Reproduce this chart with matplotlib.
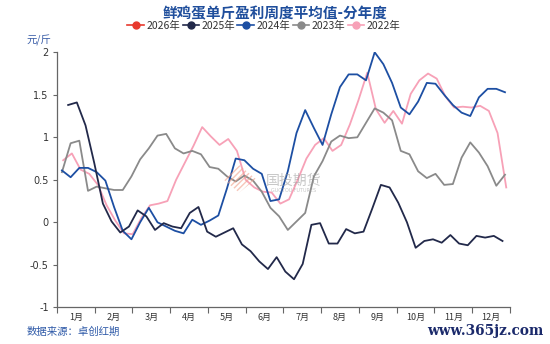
import numpy as np
import matplotlib
matplotlib.use("Agg")
import matplotlib.pyplot as plt
from matplotlib.lines import Line2D
from matplotlib.patches import Polygon

plt.rcParams['font.family'] = ['Noto Sans CJK SC', 'DejaVu Sans']

# weekly average profit per jin of fresh eggs (yuan/jin), one list per year
y2022 = [0.73, 0.81, 0.62, 0.57, 0.44, 0.20, 0.02, -0.13, -0.14, 0.05,
         0.20, 0.22, 0.25, 0.50, 0.70, 0.90, 1.12, 1.01, 0.91, 0.98,
         0.84, 0.50, 0.41, 0.36, 0.35, 0.22, 0.27, 0.50, 0.75, 0.91,
         0.99, 0.84, 0.91, 1.15, 1.44, 1.76, 1.33, 1.17, 1.31, 1.16,
         1.51, 1.67, 1.75, 1.69, 1.48, 1.35, 1.36, 1.35, 1.37, 1.31,
         1.05, 0.41]
y2023 = [0.59, 0.93, 0.96, 0.37, 0.42, 0.40, 0.38, 0.38, 0.54, 0.74,
         0.87, 1.02, 1.04, 0.87, 0.81, 0.84, 0.80, 0.65, 0.63, 0.54,
         0.48, 0.55, 0.49, 0.36, 0.17, 0.07, -0.09, 0.01, 0.11, 0.54,
         0.72, 0.95, 1.02, 0.99, 1.00, 1.17, 1.34, 1.29, 1.20, 0.84,
         0.80, 0.60, 0.52, 0.57, 0.44, 0.45, 0.76, 0.94, 0.82, 0.66,
         0.43, 0.56]
y2024 = [0.61, 0.53, 0.64, 0.64, 0.59, 0.49, 0.18, -0.10, -0.20, 0.00,
         0.17, 0.00, -0.05, -0.10, -0.13, 0.03, -0.03, 0.02, 0.08, 0.40,
         0.75, 0.73, 0.63, 0.57, 0.25, 0.27, 0.60, 1.05, 1.32, 1.11,
         0.91, 1.27, 1.59, 1.74, 1.74, 1.67, 2.00, 1.86, 1.64, 1.35,
         1.27, 1.42, 1.64, 1.63, 1.50, 1.38, 1.29, 1.25, 1.47, 1.57,
         1.57, 1.53]
y2025 = [1.38, 1.41, 1.14, 0.70, 0.22, 0.01, -0.12, -0.05, 0.14, 0.07,
         -0.09, -0.01, -0.05, -0.07, 0.11, 0.18, -0.11, -0.17, -0.12, -0.07,
         -0.26, -0.34, -0.46, -0.55, -0.41, -0.58, -0.67, -0.49, -0.03, -0.01,
         -0.25, -0.25, -0.08, -0.13, -0.11, 0.16, 0.44, 0.41, 0.23, 0.00,
         -0.30, -0.22, -0.20, -0.24, -0.15, -0.25, -0.27, -0.16, -0.18, -0.16,
         -0.22]
y2026 = []

# day of year of each series' first weekly observation
start_day = {'2022': 5, '2023': 4, '2024': 4, '2025': 9, '2026': 2}

months = ['1月', '2月', '3月', '4月', '5月', '6月',
          '7月', '8月', '9月', '10月', '11月', '12月']

series = [
    ('2026年', y2026, '#e8392e'),
    ('2025年', y2025, '#22294a'),
    ('2024年', y2024, '#1d4fa3'),
    ('2023年', y2023, '#8a8a8a'),
    ('2022年', y2022, '#f7a1b7'),
]

fig = plt.figure(figsize=(5.5, 3.44), dpi=100)
ax = fig.add_axes([0.1036, 0.1067, 0.8236, 0.7413])

# draw oldest first so that newer years sit on top
for name, vals, color in reversed(series):
    if not vals:
        continue
    days = start_day[name[:4]] + 7 * np.arange(len(vals))
    ax.plot(days, vals, color=color, lw=1.3, zorder=3)

ax.set_xlim(0, 365)
ax.set_ylim(-1, 2)

month_len = 365 / 12
ax.set_xticks([month_len * i for i in range(13)])
ax.set_xticklabels([])
ax.set_xticks([month_len * (i + 0.5) for i in range(12)], minor=True)
ax.set_xticklabels(months, minor=True, fontsize=6.5, color='#333333')
ax.tick_params(axis='x', which='major', length=4, color='#666666', width=0.8)
ax.tick_params(axis='x', which='minor', length=0, pad=4)

yticks = [-1, -0.5, 0, 0.5, 1, 1.5, 2]
ax.set_yticks(yticks)
ax.set_yticklabels(['-1', '-0.5', '0', '0.5', '1', '1.5', '2'],
                   fontsize=7, color='#333333', family='DejaVu Sans')
ax.tick_params(axis='y', length=3, color='#666666', width=0.8, pad=3)

for side in ['top', 'right']:
    ax.spines[side].set_visible(False)
for side in ['left', 'bottom']:
    ax.spines[side].set_color('#666666')
    ax.spines[side].set_linewidth(0.9)

# title and legend
fig.text(0.5, 0.962, '鲜鸡蛋单斤盈利周度平均值-分年度', ha='center', va='center',
         fontsize=10.5, fontweight='bold', color='#1f4e9c')

handles = [Line2D([0], [0], color=c, lw=1.2, marker='o', markersize=5,
                  markerfacecolor=c, markeredgecolor=c) for _, _, c in series]
fig.legend(handles, [n for n, _, _ in series], loc='center', ncol=5,
           bbox_to_anchor=(0.48, 0.925), frameon=False, fontsize=7.5,
           handlelength=1.6, handletextpad=0.25, columnspacing=0.2,
           labelcolor='#333333')

fig.text(0.049, 0.883, '元/斤', ha='left', va='center', fontsize=7.5,
         color='#3b5ea8')
fig.text(0.049, 0.035, '数据来源：卓创红期', ha='left', va='center',
         fontsize=7.5, color='#2f5aa8')
fig.text(0.988, 0.038, 'www.365jz.com', ha='right', va='center',
         fontsize=9.8, fontweight='bold', family='DejaVu Serif',
         color='#1b2a6b')

# faint company watermark in the middle of the plot
logo = Polygon([(0.405, 0.48), (0.435, 0.44), (0.465, 0.48), (0.435, 0.52)],
               closed=True, transform=fig.transFigure, facecolor='none',
               edgecolor='#f2a08a', hatch='//////', lw=0, alpha=0.6)
fig.patches.append(logo)
fig.text(0.533, 0.473, '国投期货', ha='center', va='center', fontsize=10,
         color='#9a9a9a', alpha=0.55)
fig.text(0.533, 0.447, 'GUOTOU FUTURES', ha='center', va='center',
         fontsize=3.5, color='#9a9a9a', alpha=0.55, family='DejaVu Sans')

fig.savefig('out.png', dpi=100)
